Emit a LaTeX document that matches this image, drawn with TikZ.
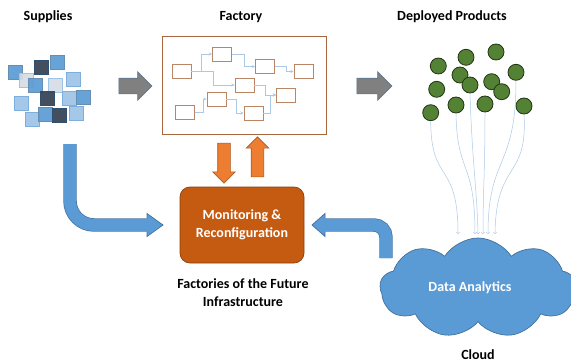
\documentclass[tikz,border=0pt]{standalone}
\usepackage{fontspec}
\setmainfont{Carlito}
\usetikzlibrary{shapes.arrows,shapes.symbols}

\definecolor{midblue}{RGB}{91,155,213}
\definecolor{lightblue}{RGB}{157,195,230}
\definecolor{lightgray}{RGB}{214,220,229}
\definecolor{darkblue}{RGB}{51,63,80}
\definecolor{edgeblue}{RGB}{65,113,156}
\definecolor{flowblue}{RGB}{170,200,232}
\definecolor{boxbrown}{RGB}{168,102,62}
\definecolor{rust}{RGB}{197,90,17}
\definecolor{orange}{RGB}{237,125,49}
\definecolor{darkorange}{RGB}{174,90,33}
\definecolor{leaf}{RGB}{84,130,53}

\tikzset{
	label/.style={font=\fontsize{14}{18}\selectfont\bfseries, align=center},
	sq/.style={draw, line width=0.6pt, minimum size=14pt, inner sep=0pt, fill opacity=0.92},
	sqmid/.style={sq, fill=midblue, draw=edgeblue!80},
	sqlight/.style={sq, fill=lightblue, draw=midblue!80},
	sqgray/.style={sq, fill=lightgray, draw=lightblue},
	sqdark/.style={sq, fill=darkblue, draw=edgeblue!70!black},
	fbox/.style={draw=boxbrown!80, line width=0.7pt, fill=white, minimum width=19pt, minimum height=14pt, inner sep=0pt},
	flow/.style={->, flowblue, line width=0.5pt, >=stealth},
	ball/.style={circle, draw=leaf!40!black, line width=0.8pt, fill=leaf, minimum size=16pt, inner sep=0pt},
	feed/.style={->, flowblue, line width=0.5pt},
	grayarrow/.style={single arrow, draw=edgeblue!60!gray, fill=gray, line width=0.6pt, inner sep=7.5pt,
		minimum width=28pt, single arrow head extend=6.5pt},
	orangearrow/.style={single arrow, draw=darkorange, fill=orange, line width=0.6pt, inner sep=6pt,
		minimum width=22pt, single arrow head extend=5pt, minimum height=40pt},
	bigarrow/.style={line width=0.7pt, draw=edgeblue, double=midblue, double distance=12pt, rounded corners=24pt}
}

\begin{document}
\begin{tikzpicture}[x=1pt, y=-1pt]
	\useasboundingbox (0,0) rectangle (571,364);

	% Ueberschriften
	\node[label] (tsupplies) at (48,17) {Supplies};
	\node[label] (tfactory) at (241,17) {Factory};
	\node[label] (tproducts) at (452,17) {Deployed Products};

	% Zulieferteile
	\node[sqmid] (q1) at (15.5,72) {};
	\node[sqdark] (q2) at (41,67.5) {};
	\node[sqmid] (q3) at (57,62.5) {};
	\node[sqgray] (q4) at (26,80) {};
	\node[sqmid] (q5) at (35,85) {};
	\node[sqgray] (q6) at (55,85) {};
	\node[sqlight] (q7) at (73,79) {};
	\node[sqlight] (q8) at (21,103) {};
	\node[sqdark] (q9) at (47,98) {};
	\node[sqlight] (q10) at (69,98) {};
	\node[sqmid] (q11) at (83,97) {};
	\node[sqlight] (q12) at (32,119) {};
	\node[sqmid] (q13) at (45.5,114) {};
	\node[sqdark] (q14) at (59,115) {};
	\node[sqlight] (q15) at (76,113) {};

	% graue Pfeile
	\node[grayarrow, minimum height=33pt] (g1) at (131.5,86) {};
	\node[grayarrow, minimum height=35pt] (g2) at (370.5,86) {};

	% Fabrik mit Ablauf
	\node[draw=boxbrown, line width=0.8pt, minimum width=164pt, minimum height=98pt] (factory) at (244,85) {};
	\node[fbox] (b1) at (181.5,71) {};
	\node[fbox] (b2) at (222,54) {};
	\node[fbox] (b3) at (265,66.5) {};
	\node[fbox] (b4) at (303.5,71.5) {};
	\node[fbox] (b5) at (244.5,85) {};
	\node[fbox] (b6) at (286,95) {};
	\node[fbox] (b7) at (216.5,99) {};
	\node[fbox] (b8) at (185,112.5) {};
	\node[fbox] (b9) at (253.5,113) {};
	\draw[flow] (b1.east) -- ++(10,0) |- (b2.west);
	\draw[flow] (b1.east) -- ++(22,0) |- (b5.west);
	\draw[flow] (b2.east) -- ++(12,0) |- (b3.west);
	\draw[flow] (b3.east) -- ++(11,0) |- (b4.west);
	\draw[flow] (b5.east) -- ++(11,0) |- (b6.west);
	\draw[flow] (b8.east) -- ++(8,0) |- (b7.west);
	\draw[flow] (b7.east) -- ++(10,0) |- (b9.west);
	\draw[flow] (b9.east) -- ++(7,0) |- (b6.west);

	% Produkte
	\node[ball] (p1) at (438.3,66) {};
	\node[ball] (p2) at (466,57.3) {};
	\node[ball] (p3) at (496,52) {};
	\node[ball] (p4) at (460,75) {};
	\node[ball] (p5) at (470,85) {};
	\node[ball] (p6) at (491.7,81.7) {};
	\node[ball] (p7) at (501.7,91.7) {};
	\node[ball] (p8) at (516,72.3) {};
	\node[ball] (p9) at (436.7,89.3) {};
	\node[ball] (p10) at (456,105) {};
	\node[ball] (p11) at (485,104) {};
	\node[ball] (p12) at (430.7,112.7) {};
	\node[ball] (p13) at (524,106) {};

	% Cloud
	\node[cloud, cloud puffs=9, cloud puff arc=115, aspect=2.1, draw=edgeblue, line width=0.7pt, fill=midblue,
		minimum width=196pt, minimum height=100pt] (cloud) at (478,288) {};
	\node[label, text=white] (analytics) at (470,288) {Data Analytics};
	\node[label] (tcloud) at (478,355) {Cloud};

	% Daten in die Cloud
	\coordinate (t1) at (458,234);
	\coordinate (t2) at (475,234);
	\coordinate (t3) at (478,234);
	\coordinate (t4) at (483,234);
	\coordinate (t5) at (488,234);
	\coordinate (t6) at (495,234);
	\draw[feed] (p12.south) .. controls (431,185) and (458,160) .. (t1);
	\draw[feed] (p10.south) .. controls (457,175) and (475,160) .. (t2);
	\draw[feed] (p5.south) .. controls (472,160) and (477,190) .. (t3);
	\draw[feed] (p11.south) .. controls (485,170) and (483,190) .. (t4);
	\draw[feed] (p8.south) .. controls (516,170) and (488,155) .. (t5);
	\draw[feed] (p13.south) .. controls (528,180) and (496,160) .. (t6);

	% Monitoring
	\node[draw=rust!70!black, line width=0.7pt, fill=rust, rounded corners=10pt, minimum width=124pt,
		minimum height=76pt, text=white, label] (mon) at (242,225) {Monitoring \&\\Reconfiguration};
	\node[label] (tfuture) at (243,293) {Factories of the Future\\Infrastructure};

	% orange Pfeile
	\node[orangearrow, shape border rotate=270] (down) at (224,160) {};
	\node[orangearrow, shape border rotate=90] (up) at (257.5,160) {};

	% blaue Pfeile
	\coordinate (lstart) at (70,144);
	\coordinate (lend) at (147,225);
	\draw[bigarrow] (lstart) |- (lend);
	\fill[midblue] (147,213.5) -- (163,225) -- (147,236.5) -- cycle;
	\draw[edgeblue, line width=0.7pt] (147,218.4) -- (147,213.5) -- (163,225) -- (147,236.5) -- (147,231.6);

	\coordinate (rstart) at (386,258);
	\coordinate (rend) at (325,225);
	\draw[bigarrow, rounded corners=12pt] (rstart) |- (rend);
	\fill[midblue] (325,213.5) -- (312,225) -- (325,236.5) -- cycle;
	\draw[edgeblue, line width=0.7pt] (325,218.4) -- (325,213.5) -- (312,225) -- (325,236.5) -- (325,231.6);
\end{tikzpicture}
\end{document}
